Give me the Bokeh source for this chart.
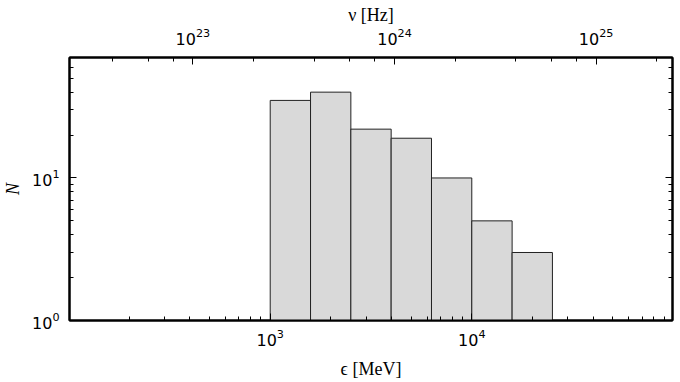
from bokeh.plotting import figure
from bokeh.models import LogAxis, Range1d, LogScale, FixedTicker, CustomJSTickFormatter
from bokeh.embed import file_html
from bokeh.resources import INLINE

# Histogram data: bin edges in MeV and counts
bin_edges = [1000, 1585, 2512, 3981, 6310, 10000, 15850, 25120]
counts = [35, 40, 22, 19, 10, 5, 3]

x_limits = (101, 99000)      # MeV
y_limits = (1, 70)
mev_to_hz = 2.418e20          # 1 MeV / h in Hz
y_major = [1, 10, 100]
y_minor = [2, 3, 4, 5, 6, 7, 8, 9, 20, 30, 40, 50, 60, 70, 80, 90]

p = figure(width=680, height=382, x_axis_type="log", y_axis_type="log",
           x_range=x_limits, y_range=y_limits,
           output_backend="svg", toolbar_location=None,
           min_border_left=68, min_border_right=8,
           min_border_top=57, min_border_bottom=62)

p.quad(left=bin_edges[:-1], right=bin_edges[1:], bottom=[y_limits[0]] * len(counts),
       top=counts, fill_color="#d9d9d9", line_color="#222222", line_width=1)

p.grid.visible = False
p.outline_line_color = "black"
p.outline_line_width = 2

bottom = p.below[0]
left = p.left[0]
left.ticker = FixedTicker(ticks=y_major, minor_ticks=y_minor)

p.extra_x_ranges = {"nu": Range1d(x_limits[0] * mev_to_hz, x_limits[1] * mev_to_hz)}
p.extra_x_scales = {"nu": LogScale()}
top = LogAxis(x_range_name="nu", axis_label="ν [Hz]")
p.add_layout(top, "above")
right = LogAxis(ticker=FixedTicker(ticks=y_major, minor_ticks=y_minor),
                formatter=CustomJSTickFormatter(code="return '';"))
p.add_layout(right, "right")

for ax in [bottom, left, top, right]:
    ax.axis_line_width = 2
    ax.axis_line_color = "black"
    ax.major_tick_in = 7
    ax.major_tick_out = 0
    ax.minor_tick_in = 4
    ax.minor_tick_out = 0
    ax.major_tick_line_color = "black"
    ax.minor_tick_line_color = "black"
    ax.major_label_text_font = "DejaVu Sans"
    ax.major_label_text_font_size = "16px"
    ax.major_label_text_color = "black"
    ax.axis_label_text_font = "Liberation Serif"
    ax.axis_label_text_font_size = "18px"
    ax.axis_label_text_font_style = "normal"
    ax.axis_label_text_color = "black"

right.major_label_standoff = 0

bottom.axis_label = "ϵ [MeV]"
bottom.major_label_standoff = 8
bottom.axis_label_standoff = 10
left.axis_label = "N"
left.axis_label_text_font_style = "italic"
left.major_label_standoff = 10
left.axis_label_standoff = 6
top.major_label_standoff = 13
top.axis_label_standoff = 0

open("out.html", "w").write(file_html(p, INLINE))
